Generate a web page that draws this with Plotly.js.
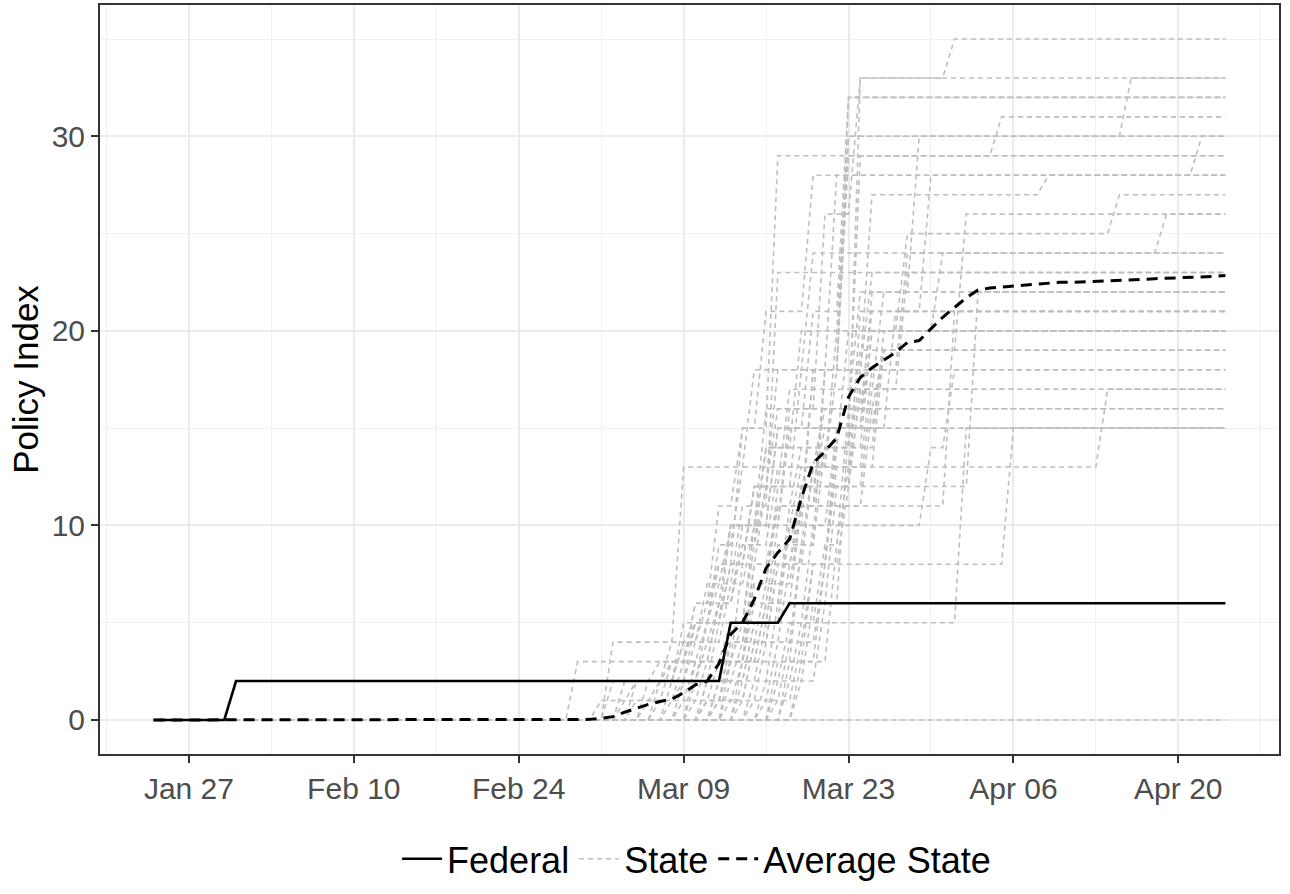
<!DOCTYPE html>
<html>
<head>
<meta charset="utf-8">
<script src="https://cdn.plot.ly/plotly-3.0.1.min.js"></script>
<style>
html,body{margin:0;padding:0;background:#fff;}
#chart{width:1290px;height:894px;}
</style>
</head>
<body>
<div id="chart"></div>
<script>
// ---- Data ----
const startDate = '2020-01-24';
const endDate = '2020-04-24';

// Federal index: [date the new value starts, value]
const federalChanges = [['2020-01-31', 2], ['2020-03-13', 5], ['2020-03-18', 6]];

// Average state index (daily)
const avgFirstDate = '2020-02-28';
const avgValues = [0.0, 0.02, 0.03, 0.08, 0.17, 0.4, 0.6, 0.8, 0.95, 1.07, 1.4, 1.8,
  2.0, 2.9, 4.4, 5.0, 6.2, 7.8, 8.6, 9.3, 11.4, 13.2,
  13.8, 14.5, 16.6, 17.6, 18.1, 18.5, 18.9, 19.4, 19.5, 20.1,
  20.7, 21.2, 21.7, 22.1, 22.2, 22.25, 22.3, 22.35, 22.4, 22.45,
  22.5, 22.5, 22.52, 22.55, 22.58, 22.6, 22.62, 22.65, 22.68, 22.7,
  22.72, 22.75, 22.78, 22.8, 22.85];

// State indices: list of [date the new value starts, value] per state
const stateChanges = [
  [['2020-02-29',3],['2020-03-22',9],['2020-03-23',16],['2020-03-26',19]],
  [['2020-03-03',4],['2020-03-09',13],['2020-03-15',18],['2020-03-20',24]],
  [['2020-03-02',1],['2020-03-05',2],['2020-03-09',5],['2020-03-13',10],['2020-03-17',15],['2020-03-27',21]],
  [['2020-03-03',2],['2020-03-07',3],['2020-03-10',6],['2020-03-12',8],['2020-03-15',12],['2020-03-18',17],['2020-03-26',22]],
  [['2020-03-04',1],['2020-03-07',2],['2020-03-09',4],['2020-03-11',7],['2020-03-13',10],['2020-03-16',14],['2020-03-19',20]],
  [['2020-03-04',2],['2020-03-08',3],['2020-03-10',5],['2020-03-12',9],['2020-03-14',13],['2020-03-22',18]],
  [['2020-03-05',1],['2020-03-08',3],['2020-03-10',6],['2020-03-12',11],['2020-03-14',15],['2020-03-16',21],['2020-03-20',28]],
  [['2020-03-05',2],['2020-03-08',4],['2020-03-10',5],['2020-03-12',8],['2020-03-14',15],['2020-03-17',29]],
  [['2020-03-06',1],['2020-03-09',3],['2020-03-11',5],['2020-03-13',8],['2020-03-15',12],['2020-03-17',18],['2020-03-25',23]],
  [['2020-03-06',2],['2020-03-09',4],['2020-03-11',6],['2020-03-13',10],['2020-03-16',16],['2020-03-24',22]],
  [['2020-03-07',1],['2020-03-09',2],['2020-03-11',5],['2020-03-13',8],['2020-03-15',12],['2020-03-17',16],['2020-03-25',21]],
  [['2020-03-07',2],['2020-03-10',4],['2020-03-12',6],['2020-03-14',9],['2020-03-16',14],['2020-03-25',20]],
  [['2020-03-08',1],['2020-03-10',3],['2020-03-12',6],['2020-03-14',10],['2020-03-17',15],['2020-03-20',21],['2020-03-23',32]],
  [['2020-03-08',2],['2020-03-10',5],['2020-03-12',7],['2020-03-14',11],['2020-03-17',23]],
  [['2020-03-09',1],['2020-03-11',3],['2020-03-13',5],['2020-03-15',9],['2020-03-17',13],['2020-03-25',18]],
  [['2020-03-09',2],['2020-03-11',4],['2020-03-13',7],['2020-03-15',10],['2020-03-18',16],['2020-03-21',26],['2020-03-24',33],['2020-04-01',35]],
  [['2020-03-10',1],['2020-03-12',3],['2020-03-14',8],['2020-03-16',12],['2020-03-24',17]],
  [['2020-03-10',2],['2020-03-12',5],['2020-03-15',10],['2020-03-18',15],['2020-03-26',19]],
  [['2020-03-10',3],['2020-03-12',6],['2020-03-14',9],['2020-03-16',12],['2020-03-19',18],['2020-03-23',30]],
  [['2020-03-11',1],['2020-03-13',3],['2020-03-15',7],['2020-03-17',12],['2020-03-24',17]],
  [['2020-03-11',2],['2020-03-13',4],['2020-03-15',7],['2020-03-17',11],['2020-03-19',14],['2020-03-26',20]],
  [['2020-03-11',1],['2020-03-13',4],['2020-03-15',8],['2020-03-17',11],['2020-03-25',16]],
  [['2020-03-11',1],['2020-03-13',3],['2020-03-14',5],['2020-04-02',15]],
  [['2020-03-11',2],['2020-03-13',3],['2020-03-15',8],['2020-04-06',15]],
  [['2020-03-12',1],['2020-03-14',3],['2020-03-16',6],['2020-03-18',10],['2020-03-30',14],['2020-04-01',18]],
  [['2020-03-12',2],['2020-03-14',4],['2020-03-16',7],['2020-03-19',11],['2020-04-01',21]],
  [['2020-03-12',1],['2020-03-15',4],['2020-03-17',8],['2020-03-19',12],['2020-04-03',22]],
  [['2020-03-12',2],['2020-03-15',5],['2020-03-17',9],['2020-03-20',13],['2020-04-14',17]],
  [['2020-03-13',2],['2020-03-15',5],['2020-03-17',9],['2020-03-19',12],['2020-03-21',15]],
  [['2020-03-13',1],['2020-03-15',4],['2020-03-17',8],['2020-03-19',11],['2020-03-21',14],['2020-03-24',19]],
  [['2020-03-13',3],['2020-03-15',6],['2020-03-17',10],['2020-03-19',13],['2020-03-21',16]],
  [['2020-03-14',2],['2020-03-16',5],['2020-03-18',10],['2020-03-20',18],['2020-03-23',29]],
  [['2020-03-14',1],['2020-03-16',4],['2020-03-18',8],['2020-03-20',13],['2020-03-22',20],['2020-03-23',30]],
  [['2020-03-14',3],['2020-03-16',6],['2020-03-18',11],['2020-03-20',18],['2020-03-22',28]],
  [['2020-03-15',2],['2020-03-17',6],['2020-03-19',11],['2020-03-21',18],['2020-03-25',27],['2020-04-09',28]],
  [['2020-03-15',1],['2020-03-17',4],['2020-03-19',9],['2020-03-21',14],['2020-03-23',20],['2020-03-28',25],['2020-04-15',27]],
  [['2020-03-16',2],['2020-03-18',5],['2020-03-20',10],['2020-03-22',15],['2020-03-25',20],['2020-03-31',24]],
  [['2020-03-16',1],['2020-03-18',4],['2020-03-20',8],['2020-03-22',13],['2020-03-24',18],['2020-03-28',24],['2020-04-19',26]],
  [['2020-03-17',2],['2020-03-19',5],['2020-03-21',9],['2020-03-23',13],['2020-03-26',19],['2020-04-02',26]],
  [['2020-03-17',1],['2020-03-19',4],['2020-03-21',8],['2020-03-23',12],['2020-03-25',17],['2020-03-28',23]],
  [['2020-03-18',3],['2020-03-20',8],['2020-03-22',15],['2020-03-24',29],['2020-04-05',31]],
  [['2020-03-18',2],['2020-03-20',6],['2020-03-22',12],['2020-03-24',21],['2020-03-30',28],['2020-04-22',30]],
  [['2020-03-19',3],['2020-03-21',8],['2020-03-22',14],['2020-03-24',33]],
  [['2020-03-19',2],['2020-03-21',6],['2020-03-23',15],['2020-03-25',22],['2020-03-29',30],['2020-04-16',33]],
  [['2020-03-17',3],['2020-03-19',9],['2020-03-21',18],['2020-03-23',32]],
  []
];

// ---- Helpers ----
const DAY = 86400000;
function toMs(d){ return Date.parse(d + 'T00:00:00Z'); }
function toStr(ms){ return new Date(ms).toISOString().slice(0,10); }
function stepPath(changes){
  const xs = [startDate], ys = [0];
  let prev = 0;
  changes.forEach(([d, v]) => {
    xs.push(toStr(toMs(d) - DAY)); ys.push(prev);
    xs.push(d); ys.push(v);
    prev = v;
  });
  xs.push(endDate); ys.push(prev);
  return {xs, ys};
}

// States combined into one trace, separated by gaps
const sx = [], sy = [];
stateChanges.forEach(ch => {
  const p = stepPath(ch);
  sx.push(...p.xs, null); sy.push(...p.ys, null);
});

const fed = stepPath(federalChanges);

const ax = [startDate], ay = [0];
avgValues.forEach((v, i) => { ax.push(toStr(toMs(avgFirstDate) + i * DAY)); ay.push(v); });

const traces = [
  {x: sx, y: sy, type: 'scatter', mode: 'lines', name: 'State', connectgaps: false,
   line: {color: '#BEBEBE', width: 1.6, dash: '5px,4px'}, legendrank: 2, hoverinfo: 'skip'},
  {x: fed.xs, y: fed.ys, type: 'scatter', mode: 'lines', name: 'Federal',
   line: {color: '#000000', width: 2.6}, legendrank: 1},
  {x: ax, y: ay, type: 'scatter', mode: 'lines', name: 'Average State',
   line: {color: '#000000', width: 3, dash: '11px,7px'}, legendrank: 3}
];

const font = 'Liberation Sans, Arial, sans-serif';
const layout = {
  width: 1290, height: 894,
  margin: {l: 100, r: 11, t: 5, b: 134},
  paper_bgcolor: '#ffffff', plot_bgcolor: '#ffffff',
  font: {family: font, color: '#000000'},
  showlegend: true,
  legend: {orientation: 'h', x: 0.506, xanchor: 'center', y: -0.14, yanchor: 'middle',
           font: {size: 36, color: '#000000', family: font}, traceorder: 'normal',
           itemwidth: 40, bgcolor: 'rgba(0,0,0,0)'},
  xaxis: {
    type: 'date',
    range: ['2020-01-19 10:48', '2020-04-28 13:12'],
    tick0: '2020-01-27', dtick: 14 * DAY, tickformat: '%b %d',
    showgrid: true, gridcolor: '#EBEBEB', gridwidth: 2,
    minor: {tick0: '2020-01-20', dtick: 7 * DAY, showgrid: true, gridcolor: '#F0F0F0', gridwidth: 1},
    showline: true, linecolor: '#333333', linewidth: 2, mirror: true,
    ticks: 'outside', ticklen: 7, tickwidth: 2, tickcolor: '#333333',
    tickfont: {size: 30, color: '#4D4D4D', family: font},
    zeroline: false, fixedrange: true
  },
  yaxis: {
    range: [-1.75, 36.75],
    tick0: 0, dtick: 10,
    showgrid: true, gridcolor: '#EBEBEB', gridwidth: 2,
    minor: {tick0: 5, dtick: 10, showgrid: true, gridcolor: '#F0F0F0', gridwidth: 1},
    showline: true, linecolor: '#333333', linewidth: 2, mirror: true,
    ticks: 'outside', ticklen: 7, tickwidth: 2, tickcolor: '#333333',
    tickfont: {size: 30, color: '#4D4D4D', family: font},
    title: {text: 'Policy Index', font: {size: 35, color: '#000000', family: font}, standoff: 2},
    zeroline: false, fixedrange: true
  }
};

Plotly.newPlot('chart', traces, layout, {displayModeBar: false, staticPlot: true});
</script>
</body>
</html>
